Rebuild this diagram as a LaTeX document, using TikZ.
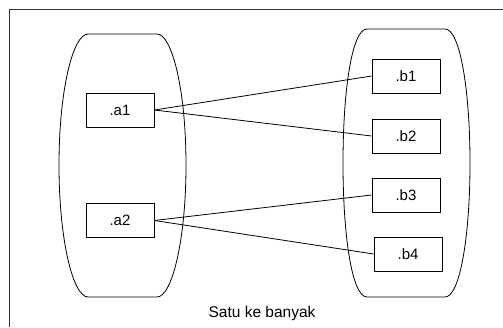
\documentclass[tikz,border=0pt]{standalone}
\usepackage{fontspec}
\setmainfont{Liberation Sans}
\begin{document}
\begin{tikzpicture}[x=1pt,y=-1pt,line width=0.8pt,
  itembox/.style={draw,rectangle,minimum width=68pt,minimum height=34pt,inner sep=0pt,font=\fontsize{15}{18}\selectfont},
  conn/.style={draw,line width=0.8pt}]
\useasboundingbox (0,0) rectangle (503,327);
\draw[line width=0.9pt,draw=black!80] (9.5,327) -- (9.5,9) -- (503,9);
% left barrel
\draw (88,34) -- (157,34)
  .. controls (172,34) and (186,90) .. (186,165)
  .. controls (186,240) and (172,297) .. (157,297)
  -- (88,297)
  .. controls (73,297) and (59,240) .. (59,165)
  .. controls (59,90) and (73,34) .. (88,34) -- cycle;
% right barrel
\draw (367,29) -- (445,29)
  .. controls (460,29) and (470,90) .. (470,163)
  .. controls (470,236) and (460,297) .. (445,297)
  -- (367,297)
  .. controls (352,297) and (343,236) .. (343,163)
  .. controls (343,90) and (352,29) .. (367,29) -- cycle;
\node[itembox] (a1) at (120,110) {.a1};
\node[itembox] (a2) at (120,220.5) {.a2};
\node[itembox] (b1) at (406,76) {.b1};
\node[itembox] (b2) at (406,136) {.b2};
\node[itembox] (b3) at (406,195) {.b3};
\node[itembox] (b4) at (408,254) {.b4};
\draw[conn] (a1.east) -- (b1.west);
\draw[conn] (a1.east) -- (b2.west);
\draw[conn] (a2.east) -- (b3.west);
\draw[conn] (a2.east) -- (b4.west);
\node[font=\fontsize{15.5}{18}\selectfont] (cap) at (262,313) {Satu ke banyak};
\end{tikzpicture}
\end{document}
